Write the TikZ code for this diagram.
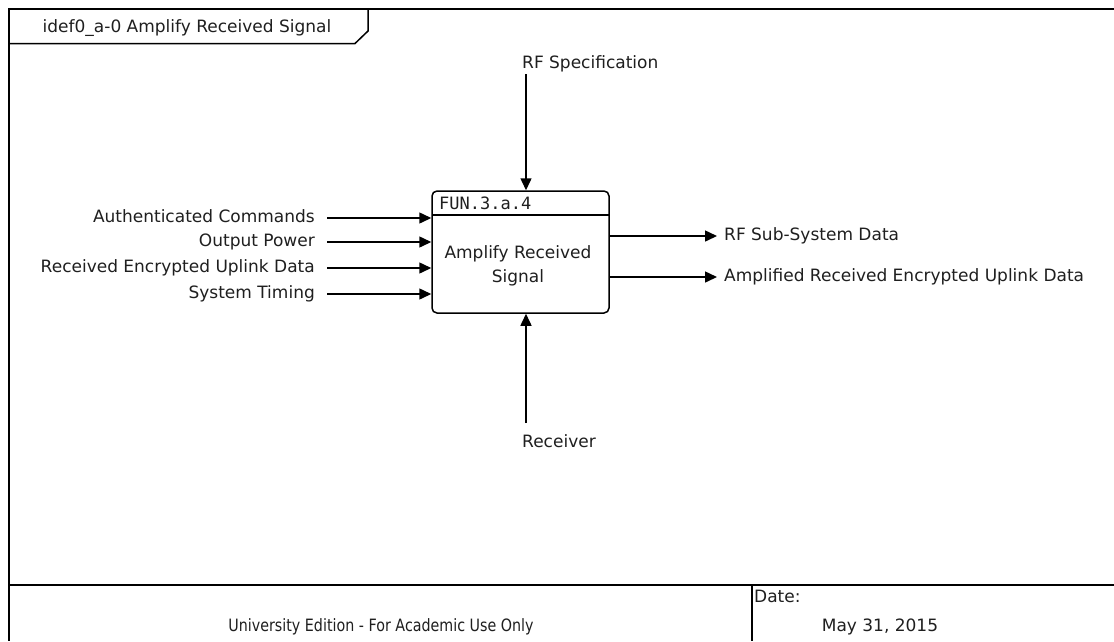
\documentclass[tikz,border=0pt]{standalone}
\usepackage{fontspec}
\setmainfont{DejaVu Sans}
\newfontfamily\monof{DejaVu Sans Mono}
\newfontfamily\condf[FakeStretch=0.84]{DejaVu Sans}
\usetikzlibrary{arrows.meta}
\begin{document}
\begin{tikzpicture}[x=1pt,y=-1pt,
  lbl/.style={font=\fontsize{17}{24}\selectfont, inner sep=0pt, text=black!88, text height=12.5pt, text depth=3.5pt},
  arr/.style={line width=1.5pt, -{Triangle[length=12pt,width=11pt]}},
  frame/.style={line width=2.6pt},
  thin/.style={line width=1.5pt}]
\useasboundingbox (0,0) rectangle (1114,641);
\fill[white] (0,0) rectangle (1114,641);
% frame
\draw[frame] (1114,9) -- (9,9) -- (9,641);
\draw[frame] (9,585) -- (1114,585);
\draw[frame] (752,585) -- (752,641);
% title tab
\draw[thin] (9,43.5) -- (355,43.5) -- (368,31) -- (368,9);
\node[lbl] (title) at (187,28) {idef0\_a-0 Amplify Received Signal};
% function box
\node[draw, thin, rounded corners=5pt, minimum width=177pt, minimum height=122pt, inner sep=0pt] (fun) at (520.5,252) {};
\coordinate (hl) at (432,215);
\coordinate (hr) at (609,215);
\draw[thin] (hl) -- (hr);
\node[font=\monof\fontsize{17}{19}\selectfont, inner sep=0pt, anchor=west, text=black!88] (funid) at (439,203) {FUN.3.a.4};
\node[font=\fontsize{17}{24}\selectfont, inner sep=0pt, text=black!88, align=center] (funtxt) at (518,266) {Amplify Received\\Signal};
% inputs
\node[lbl, anchor=east] (i1) at (315,218) {Authenticated Commands};
\node[lbl, anchor=east] (i2) at (315,242) {Output Power};
\node[lbl, anchor=east] (i3) at (315,268) {Received Encrypted Uplink Data};
\node[lbl, anchor=east] (i4) at (315,294) {System Timing};
\foreach \n in {i1,i2,i3,i4}
  \draw[arr] ([xshift=12pt]\n.east) -- (fun.west |- \n.east);
% outputs
\node[lbl, anchor=west] (o1) at (724,236) {RF Sub-System Data};
\node[lbl, anchor=west] (o2) at (724,277) {Amplified Received Encrypted Uplink Data};
\foreach \n in {o1,o2}
  \draw[arr] (fun.east |- \n.west) -- ([xshift=-7pt]\n.west);
% control
\node[lbl, anchor=west] (ctl) at (522,64) {RF Specification};
\coordinate (ctop) at (526,74);
\draw[arr] (ctop) -- (ctop |- fun.north);
% mechanism
\node[lbl, anchor=west] (mech) at (522,443) {Receiver};
\coordinate (cbot) at (526,423);
\draw[arr] (cbot) -- (cbot |- fun.south);
% footer
\node[lbl, font=\condf\fontsize{17}{20}\selectfont] (uni) at (381,627) {University Edition - For Academic Use Only};
\node[lbl, anchor=west] (datel) at (754,598) {Date:};
\node[lbl] (date) at (880,627) {May 31, 2015};
\end{tikzpicture}
\end{document}
